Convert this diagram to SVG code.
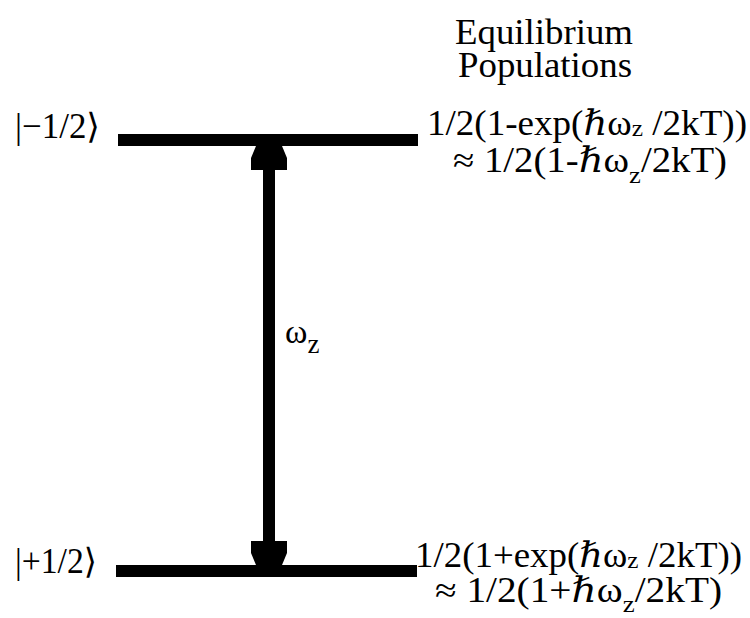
<svg xmlns="http://www.w3.org/2000/svg" width="750" height="618" viewBox="0 0 750 618">
<style>
text{font-family:"Liberation Serif","DejaVu Serif",serif;fill:#000}
.lbl{font-size:35px}
.f{font-size:35px}
.hd{font-size:35px}
.sub{font-size:24px}
.bar{fill:#000}
</style>
<defs>
<marker id="head" markerUnits="userSpaceOnUse" viewBox="0 -19 25 38" refX="24" refY="0" markerWidth="25" markerHeight="38" orient="auto-start-reverse">
<path d="M0,-18 L12,-18 L24,-13 L24,13 L12,18 L0,18 Z" fill="#000"/>
</marker>
</defs>
<rect width="750" height="618" fill="#fff"/>
<g id="header">
<text class="hd" x="455" y="44" textLength="178" lengthAdjust="spacingAndGlyphs">Equilibrium</text>
<text class="hd" x="458" y="77" textLength="174" lengthAdjust="spacingAndGlyphs">Populations</text>
</g>
<g id="level-minus">
<rect class="bar" x="118" y="134" width="300" height="12"/>
<text class="lbl" x="15" y="138" textLength="85" lengthAdjust="spacingAndGlyphs">|−1/2⟩</text>
<text class="f" x="427" y="135" textLength="320" lengthAdjust="spacingAndGlyphs">1/2(1-exp(ℏω<tspan class="sub" dy="1">z</tspan><tspan dy="-1"> /2kT))</tspan></text>
<text class="f" x="453" y="172" textLength="274" lengthAdjust="spacingAndGlyphs">≈ 1/2(1-ℏω<tspan class="sub" dy="11">z</tspan><tspan dy="-11">/2kT)</tspan></text>
</g>
<g id="level-plus">
<rect class="bar" x="116" y="565" width="301" height="12"/>
<text class="lbl" x="15" y="573" textLength="82" lengthAdjust="spacingAndGlyphs">|+1/2⟩</text>
<text class="f" x="415" y="567" textLength="327" lengthAdjust="spacingAndGlyphs">1/2(1+exp(ℏω<tspan class="sub" dy="1">z</tspan><tspan dy="-1"> /2kT))</tspan></text>
<text class="f" x="435" y="602" textLength="287" lengthAdjust="spacingAndGlyphs">≈ 1/2(1+ℏω<tspan class="sub" dy="10">z</tspan><tspan dy="-10">/2kT)</tspan></text>
</g>
<g id="connectors">
<line x1="269" y1="565" x2="269" y2="146" stroke="#000" stroke-width="12" marker-start="url(#head)" marker-end="url(#head)"/>
<text x="285" y="343" style="font-size:34px">ω<tspan dy="10" style="font-size:27px">z</tspan></text>
</g>
</svg>
